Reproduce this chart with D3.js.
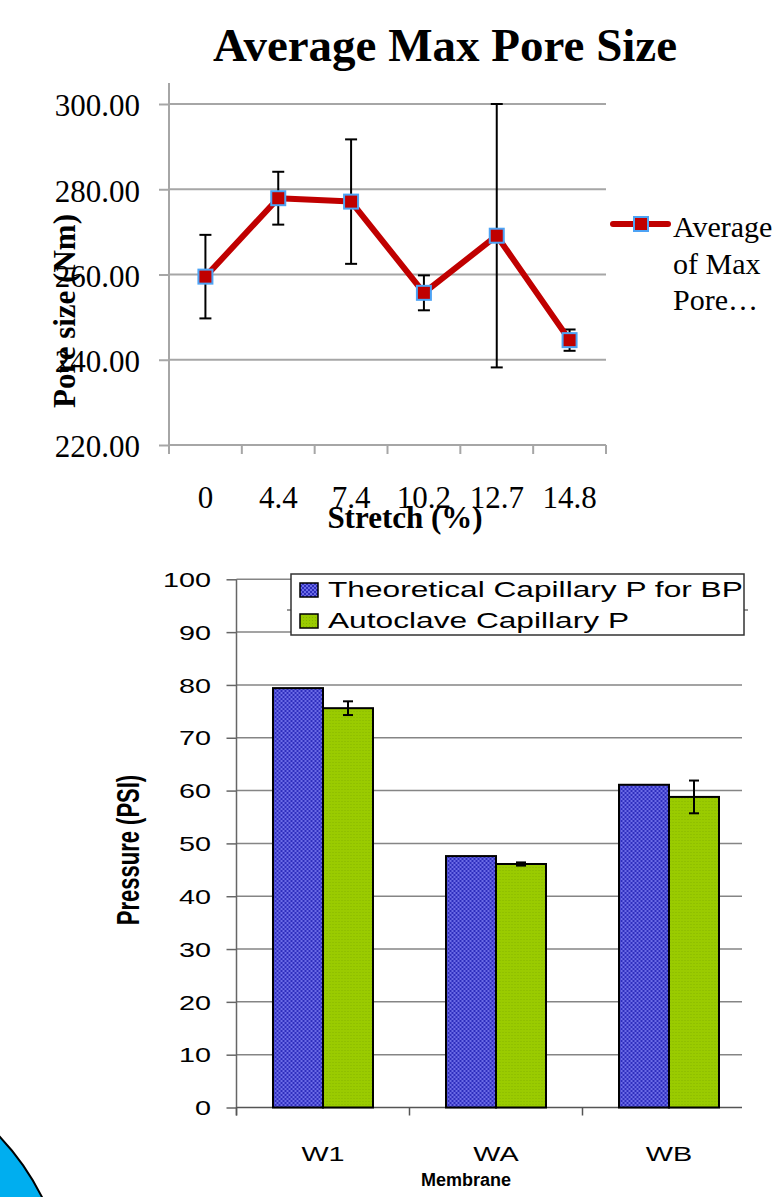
<!DOCTYPE html>
<html>
<head>
<meta charset="utf-8">
<script src="https://cdn.jsdelivr.net/npm/d3@7"></script>
<style>
body { margin: 0; background: #fff; }
svg { display: block; }
</style>
</head>
<body>
<div id="chart"></div>
<script>
// ---- top chart: average max pore size vs stretch
var stretchLabels = ["0", "4.4", "7.4", "10.2", "12.7", "14.8"];
var poreMeans = [259.5, 277.9, 277.1, 255.7, 269.1, 244.6];
var poreErrors = [9.8, 6.2, 14.6, 4.1, 30.9, 2.5];
var poreTicks = [220, 240, 260, 280, 300];
var poreLegend = ["Average", "of Max", "Pore\u2026"];

// ---- bottom chart: capillary pressure per membrane
var membranes = ["W1", "WA", "WB"];
var seriesNames = ["Theoretical Capillary P for BP", "Autoclave Capillary P"];
var theoreticalP = [79.4, 47.6, 61.1];
var autoclaveP = [75.6, 46.1, 58.8];
var autoclaveErrors = [1.3, 0.3, 3.1];
var pressureTicks = [0, 10, 20, 30, 40, 50, 60, 70, 80, 90, 100];

var serif = "'Liberation Serif', 'Times New Roman', serif";
var sans = "'Liberation Sans', Arial, sans-serif";
var gridGray = "#a6a6a6";

var svg = d3.select('#chart').append('svg')
    .attr('width', 782)
    .attr('height', 1197);

// patterns for the bars
var defs = svg.append('defs');
var pb = defs.append('pattern').attr('id', 'bluePat')
    .attr('patternUnits', 'userSpaceOnUse').attr('width', 4).attr('height', 4);
pb.append('rect').attr('width', 4).attr('height', 4).attr('fill', '#2e2ebd');
pb.append('rect').attr('width', 2).attr('height', 2).attr('fill', '#6c6ce6');
pb.append('rect').attr('x', 2).attr('y', 2).attr('width', 2).attr('height', 2).attr('fill', '#6c6ce6');
var pg = defs.append('pattern').attr('id', 'greenPat')
    .attr('patternUnits', 'userSpaceOnUse').attr('width', 3).attr('height', 3);
pg.append('rect').attr('width', 3).attr('height', 3).attr('fill', '#9acb00');
pg.append('rect').attr('width', 1).attr('height', 1).attr('fill', '#86b400');

// decoration in the bottom-left corner
svg.append('circle')
    .attr('cx', -184).attr('cy', 1310).attr('r', 252.6)
    .attr('fill', '#00aeef').attr('stroke', '#000').attr('stroke-width', 2);

/* ================= TOP CHART ================= */
var p1 = {left: 169, right: 606, top: 104, bottom: 445, axisTop: 83};

var x1 = d3.scaleBand().domain(stretchLabels).range([p1.left, p1.right]);
var y1 = d3.scaleLinear().domain([220, 300]).range([p1.bottom, p1.top]);

svg.append('text')
    .attr('x', 445).attr('y', 61)
    .attr('text-anchor', 'middle')
    .attr('font-family', serif).attr('font-weight', 'bold').attr('font-size', 47)
    .text('Average Max Pore Size');

// gridlines
svg.append('g').selectAll('line')
    .data(poreTicks.slice(1)).join('line')
    .attr('x1', p1.left).attr('x2', p1.right)
    .attr('y1', d => y1(d)).attr('y2', d => y1(d))
    .attr('stroke', gridGray).attr('stroke-width', 2);

// y axis
var yAxis1 = svg.append('g')
    .attr('transform', `translate(${p1.left},0)`)
    .call(d3.axisLeft(y1).tickValues(poreTicks).tickFormat(d3.format('.2f')).tickSize(10).tickPadding(19));
yAxis1.select('.domain').remove();
yAxis1.selectAll('line').attr('stroke', gridGray).attr('stroke-width', 2);
yAxis1.selectAll('text')
    .attr('font-family', serif).attr('font-size', 31).attr('fill', '#000').attr('dy', '0.38em');
svg.append('line')
    .attr('x1', p1.left).attr('x2', p1.left)
    .attr('y1', p1.axisTop).attr('y2', p1.bottom + 9)
    .attr('stroke', gridGray).attr('stroke-width', 2);

// x axis
var xAxis1 = svg.append('g')
    .attr('transform', `translate(0,${p1.bottom})`)
    .call(d3.axisBottom(x1).tickSize(0).tickPadding(41));
xAxis1.select('.domain').attr('stroke', gridGray).attr('stroke-width', 2).attr('d', `M${p1.left},0H${p1.right}`);
xAxis1.selectAll('text')
    .attr('font-family', serif).attr('font-size', 31).attr('fill', '#000');
xAxis1.selectAll('.bound')
    .data(d3.range(stretchLabels.length + 1)).join('line')
    .attr('class', 'bound')
    .attr('x1', i => p1.left + i * x1.step()).attr('x2', i => p1.left + i * x1.step())
    .attr('y1', 0).attr('y2', 9)
    .attr('stroke', gridGray).attr('stroke-width', 2);

// axis titles
svg.append('text')
    .attr('transform', 'translate(75,311) rotate(-90)')
    .attr('text-anchor', 'middle')
    .attr('font-family', serif).attr('font-weight', 'bold').attr('font-size', 31)
    .text('Pore size (Nm)');
svg.append('text')
    .attr('x', 405).attr('y', 528)
    .attr('text-anchor', 'middle')
    .attr('font-family', serif).attr('font-weight', 'bold').attr('font-size', 31)
    .text('Stretch (%)');

var cx1 = d => x1(d) + x1.bandwidth() / 2;

// error bars
var eb1 = svg.append('g').selectAll('g')
    .data(stretchLabels).join('g')
    .attr('stroke', '#000').attr('stroke-width', 2);
eb1.append('line')
    .attr('x1', cx1).attr('x2', cx1)
    .attr('y1', (d, i) => y1(poreMeans[i] + poreErrors[i]))
    .attr('y2', (d, i) => y1(poreMeans[i] - poreErrors[i]));
eb1.append('line')
    .attr('x1', d => cx1(d) - 6).attr('x2', d => cx1(d) + 6)
    .attr('y1', (d, i) => y1(poreMeans[i] + poreErrors[i]))
    .attr('y2', (d, i) => y1(poreMeans[i] + poreErrors[i]));
eb1.append('line')
    .attr('x1', d => cx1(d) - 6).attr('x2', d => cx1(d) + 6)
    .attr('y1', (d, i) => y1(poreMeans[i] - poreErrors[i]))
    .attr('y2', (d, i) => y1(poreMeans[i] - poreErrors[i]));

// line + markers
var line1 = d3.line()
    .x((d, i) => cx1(stretchLabels[i]))
    .y(d => y1(d));
svg.append('path')
    .datum(poreMeans)
    .attr('d', line1)
    .attr('fill', 'none')
    .attr('stroke', '#c00000').attr('stroke-width', 6).attr('stroke-linejoin', 'round');
svg.append('g').selectAll('rect')
    .data(poreMeans).join('rect')
    .attr('x', (d, i) => cx1(stretchLabels[i]) - 7)
    .attr('y', d => y1(d) - 7)
    .attr('width', 14).attr('height', 14)
    .attr('fill', '#c00000').attr('stroke', '#4da3f5').attr('stroke-width', 2);

// legend
var leg1 = svg.append('g');
leg1.append('line')
    .attr('x1', 613).attr('x2', 668).attr('y1', 224).attr('y2', 224)
    .attr('stroke', '#c00000').attr('stroke-width', 6).attr('stroke-linecap', 'round');
leg1.append('rect')
    .attr('x', 634).attr('y', 217).attr('width', 14).attr('height', 14)
    .attr('fill', '#c00000').attr('stroke', '#4da3f5').attr('stroke-width', 2);
leg1.selectAll('text')
    .data(poreLegend).join('text')
    .attr('x', 673).attr('y', (d, i) => 237 + i * 36.5)
    .attr('font-family', serif).attr('font-size', 30)
    .text(d => d);

/* ================= BOTTOM CHART ================= */
var p2 = {left: 236.5, right: 755.5, gridRight: 742, top: 579.3, bottom: 1107.5};
var sx = 1.44; // text in this chart is stretched horizontally

var x2 = d3.scaleBand().domain(membranes).range([p2.left, p2.right]);
var xs = d3.scaleBand().domain([0, 1]).range([0, x2.bandwidth()]).paddingOuter(0.73);
var y2 = d3.scaleLinear().domain([0, 100]).range([p2.bottom, p2.top]);

// gridlines
svg.append('g').selectAll('line')
    .data(pressureTicks.slice(1)).join('line')
    .attr('x1', p2.left).attr('x2', p2.gridRight)
    .attr('y1', d => y2(d)).attr('y2', d => y2(d))
    .attr('stroke', '#858585').attr('stroke-width', 1.5);

// y axis
var yAxis2 = svg.append('g')
    .attr('transform', `translate(${p2.left},0)`)
    .call(d3.axisLeft(y2).tickValues(pressureTicks).tickSize(10));
yAxis2.select('.domain').attr('stroke', '#666').attr('stroke-width', 1.5)
    .attr('d', `M0,${p2.top}V${p2.bottom + 8}`);
yAxis2.selectAll('line').attr('stroke', '#666').attr('stroke-width', 1.5);
yAxis2.selectAll('text')
    .attr('x', -25.5 / sx)
    .attr('transform', `scale(${sx},1)`)
    .attr('font-family', sans).attr('font-size', 20).attr('fill', '#000').attr('dy', '0.36em');

// x axis
var xAxis2 = svg.append('g')
    .attr('transform', `translate(0,${p2.bottom})`)
    .call(d3.axisBottom(x2).tickSize(0).tickPadding(39));
xAxis2.select('.domain').attr('stroke', '#555').attr('stroke-width', 1.5)
    .attr('d', `M${p2.left},0H${p2.gridRight}`);
xAxis2.selectAll('text')
    .attr('transform', `scale(${sx},1)`)
    .attr('font-family', sans).attr('font-size', 20).attr('fill', '#000');
xAxis2.selectAll('.bound')
    .data(d3.range(membranes.length)).join('line')
    .attr('class', 'bound')
    .attr('x1', i => p2.left + i * x2.step()).attr('x2', i => p2.left + i * x2.step())
    .attr('y1', 0).attr('y2', 8)
    .attr('stroke', '#555').attr('stroke-width', 1.5);

// axis titles
svg.append('text')
    .attr('transform', `translate(139,850) rotate(-90) scale(1,${sx})`)
    .attr('text-anchor', 'middle')
    .attr('font-family', sans).attr('font-weight', 'bold').attr('font-size', 22)
    .text('Pressure (PSI)');
svg.append('text')
    .attr('x', 466).attr('y', 1186)
    .attr('text-anchor', 'middle')
    .attr('font-family', sans).attr('font-weight', 'bold').attr('font-size', 18)
    .text('Membrane');

// bars
var groups = svg.append('g').selectAll('g')
    .data(membranes).join('g')
    .attr('transform', d => `translate(${x2(d)},0)`);
groups.append('rect')
    .attr('x', xs(0)).attr('width', xs.bandwidth())
    .attr('y', (d, i) => y2(theoreticalP[i]))
    .attr('height', (d, i) => y2(0) - y2(theoreticalP[i]))
    .attr('fill', 'url(#bluePat)').attr('stroke', '#000').attr('stroke-width', 2);
groups.append('rect')
    .attr('x', xs(1)).attr('width', xs.bandwidth())
    .attr('y', (d, i) => y2(autoclaveP[i]))
    .attr('height', (d, i) => y2(0) - y2(autoclaveP[i]))
    .attr('fill', 'url(#greenPat)').attr('stroke', '#000').attr('stroke-width', 2);

// error bars on autoclave series
var ecx = xs(1) + xs.bandwidth() / 2;
var eb2 = groups.append('g').attr('stroke', '#000').attr('stroke-width', 2);
eb2.append('line')
    .attr('x1', ecx).attr('x2', ecx)
    .attr('y1', (d, i) => y2(autoclaveP[i] + autoclaveErrors[i]))
    .attr('y2', (d, i) => y2(autoclaveP[i] - autoclaveErrors[i]));
eb2.append('line')
    .attr('x1', ecx - 5).attr('x2', ecx + 5)
    .attr('y1', (d, i) => y2(autoclaveP[i] + autoclaveErrors[i]))
    .attr('y2', (d, i) => y2(autoclaveP[i] + autoclaveErrors[i]));
eb2.append('line')
    .attr('x1', ecx - 5).attr('x2', ecx + 5)
    .attr('y1', (d, i) => y2(autoclaveP[i] - autoclaveErrors[i]))
    .attr('y2', (d, i) => y2(autoclaveP[i] - autoclaveErrors[i]));

// legend
svg.append('line')
    .attr('x1', 287).attr('x2', 748).attr('y1', 610).attr('y2', 610)
    .attr('stroke', '#333').attr('stroke-width', 1);
var leg2 = svg.append('g');
leg2.append('rect')
    .attr('x', 291).attr('y', 574).attr('width', 453).attr('height', 61)
    .attr('fill', '#fff').attr('stroke', '#333').attr('stroke-width', 1.5);
var items = leg2.selectAll('g')
    .data(seriesNames).join('g')
    .attr('transform', (d, i) => `translate(300,${583 + i * 31})`);
items.append('rect')
    .attr('width', 18).attr('height', 14)
    .attr('fill', (d, i) => i === 0 ? 'url(#bluePat)' : 'url(#greenPat)')
    .attr('stroke', '#000').attr('stroke-width', 1.5);
items.append('text')
    .attr('transform', `translate(28,14) scale(${sx},1)`)
    .attr('font-family', sans).attr('font-size', 22)
    .text(d => d);
</script>
</body>
</html>
